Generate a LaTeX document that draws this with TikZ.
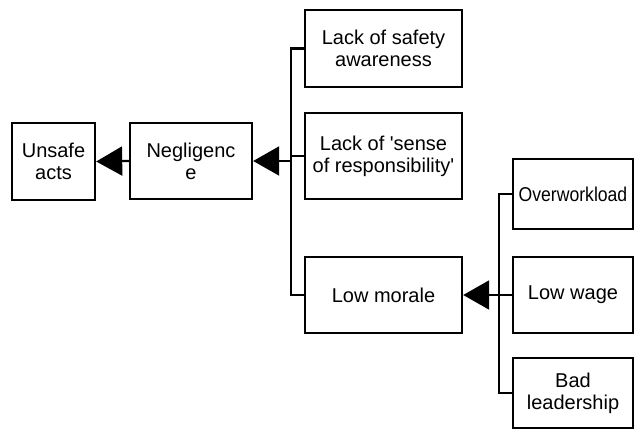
\documentclass[tikz,border=0pt]{standalone}
\usepackage{fontspec}
\setmainfont{Liberation Sans}
\usetikzlibrary{arrows.meta}
\begin{document}
\begin{tikzpicture}[x=1pt,y=-1pt,
  box/.style={draw, line width=2.4pt, inner sep=0pt, align=center,
    font=\fontsize{20}{22}\selectfont},
  conn/.style={line width=2.2pt},
  arr/.style={line width=2.2pt, -{Triangle[length=26pt,width=29pt]}}]
\useasboundingbox (0,0) rectangle (637,430);
\node[box, minimum width=83pt, minimum height=77pt] (ua) at (53.5,161.5) {Unsafe\\acts};
\node[box, minimum width=122pt, minimum height=76pt] (ng) at (191,161) {Negligenc\\e};
\node[box, minimum width=157pt, minimum height=77pt] (ls) at (383.5,48.5) {Lack of safety\\awareness};
\node[box, minimum width=157pt, minimum height=86pt] (lr) at (383.5,156) {Lack of \textquotesingle sense\\of responsibility\textquotesingle};
\node[box, minimum width=157pt, minimum height=76pt] (lm) at (383.5,295) {Low morale};
\node[box, minimum width=120pt, minimum height=70pt] (ow) at (573,194) {\scalebox{0.88}[1]{Overworkload}};
\node[box, minimum width=120pt, minimum height=76pt] (lw) at (573,295) {Low wage};
\node[box, minimum width=120pt, minimum height=70pt] (bl) at (573,393) {Bad\\leadership};
\coordinate (bx) at (291,295);
\coordinate (by) at (499,393);
\draw[conn] (ls.west) -| (bx) -- (lm.west);
\draw[conn] (lr.west) -- (lr.west -| bx);
\draw[arr] (bx |- ng.east) -- (ng.east);
\draw[arr] (ng.west) -- (ua.east);
\draw[conn] (ow.west) -| (by) -- (bl.west);
\draw[conn] (lw.west) -- (lw.west -| by);
\draw[arr] (by |- lm.east) -- (lm.east);
\end{tikzpicture}
\end{document}
